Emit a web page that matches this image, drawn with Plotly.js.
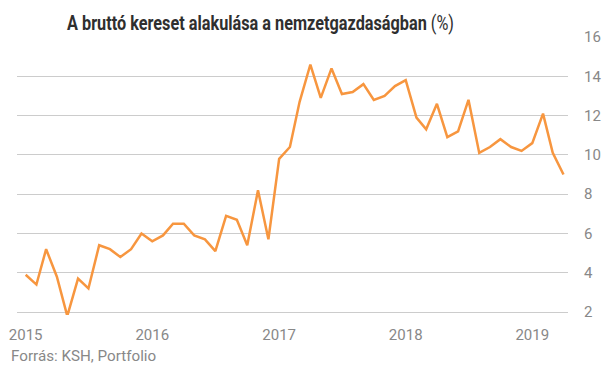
<!DOCTYPE html>
<html>
<head>
<meta charset="utf-8">
<script src="https://cdn.plot.ly/plotly-3.0.1.min.js"></script>
<style>
html,body{margin:0;padding:0;background:#fff;}
#chart{width:602px;height:366px;}
/* the reference title uses a condensed face; emulate it by narrowing the real text */
#chart .gtitle{transform-box:view-box;transform-origin:260.5px 0px;transform:scaleX(0.775);}
</style>
</head>
<body>
<div id="chart"></div>
<script>
// Monthly dates Jan 2015 – Apr 2019
const months = [
  '2015-01-01','2015-02-01','2015-03-01','2015-04-01','2015-05-01','2015-06-01','2015-07-01','2015-08-01','2015-09-01','2015-10-01','2015-11-01','2015-12-01',
  '2016-01-01','2016-02-01','2016-03-01','2016-04-01','2016-05-01','2016-06-01','2016-07-01','2016-08-01','2016-09-01','2016-10-01','2016-11-01','2016-12-01',
  '2017-01-01','2017-02-01','2017-03-01','2017-04-01','2017-05-01','2017-06-01','2017-07-01','2017-08-01','2017-09-01','2017-10-01','2017-11-01','2017-12-01',
  '2018-01-01','2018-02-01','2018-03-01','2018-04-01','2018-05-01','2018-06-01','2018-07-01','2018-08-01','2018-09-01','2018-10-01','2018-11-01','2018-12-01',
  '2019-01-01','2019-02-01','2019-03-01','2019-04-01'
];
const wageGrowth = [
  3.9, 3.4, 5.2, 3.8, 1.8, 3.7, 3.2, 5.4, 5.2, 4.8, 5.2, 6.0,
  5.6, 5.9, 6.5, 6.5, 5.9, 5.7, 5.1, 6.9, 6.7, 5.4, 8.2, 5.7,
  9.8, 10.4, 12.7, 14.6, 12.9, 14.4, 13.1, 13.2, 13.6, 12.8, 13.0, 13.5,
  13.8, 11.9, 11.3, 12.6, 10.9, 11.2, 12.8, 10.1, 10.4, 10.8, 10.4, 10.2,
  10.6, 12.1, 10.1, 9.0
];
const yTicks = [2, 4, 6, 8, 10, 12, 14, 16];
const titleText = '<b>A bruttó kereset alakulása a nemzetgazdaságban</b> (%)';
const sourceText = 'Forrás: KSH, Portfolio';

const trace = {
  x: months,
  y: wageGrowth,
  type: 'scatter',
  mode: 'lines',
  line: {color: '#F7963F', width: 2.5},
  hoverinfo: 'skip'
};

const layout = {
  width: 602,
  height: 366,
  margin: {l: 17, r: 34, t: 37, b: 51},
  paper_bgcolor: '#ffffff',
  plot_bgcolor: '#ffffff',
  showlegend: false,
  font: {family: 'Roboto, sans-serif', color: '#888888', size: 15},
  title: {
    text: titleText,
    x: 260.5/602, xref: 'container', xanchor: 'center',
    y: 1 - 23/366, yref: 'container', yanchor: 'middle',
    font: {family: 'Roboto, sans-serif', size: 21, color: '#2f2f2f'}
  },
  xaxis: {
    type: 'date',
    range: ['2014-12-07', '2019-04-14'],
    dtick: 'M12',
    tick0: '2015-01-01',
    tickformat: '%Y',
    showgrid: false,
    zeroline: false,
    showline: false,
    ticks: 'outside',
    ticklen: 6,
    tickcolor: 'rgba(0,0,0,0)',
    tickfont: {family: 'Roboto, sans-serif', size: 15, color: '#888888'},
    fixedrange: true
  },
  yaxis: {
    side: 'right',
    range: [1.85, 16],
    tickvals: yTicks,
    ticktext: yTicks.map(String),
    showgrid: true,
    gridcolor: '#cccccc',
    gridwidth: 1,
    zeroline: false,
    showline: false,
    ticks: 'outside',
    ticklen: 12,
    tickcolor: 'rgba(0,0,0,0)',
    tickfont: {family: 'Roboto, sans-serif', size: 15, color: '#888888'},
    fixedrange: true
  },
  annotations: [{
    text: sourceText,
    xref: 'paper', yref: 'paper',
    x: (9 - 17) / 551, y: (315.2 - 356) / 278,
    xanchor: 'left', yanchor: 'middle',
    showarrow: false,
    font: {family: 'Roboto, sans-serif', size: 15.2, color: '#888888'}
  }]
};

Plotly.newPlot('chart', [trace], layout, {displayModeBar: false, staticPlot: true});
</script>
</body>
</html>
